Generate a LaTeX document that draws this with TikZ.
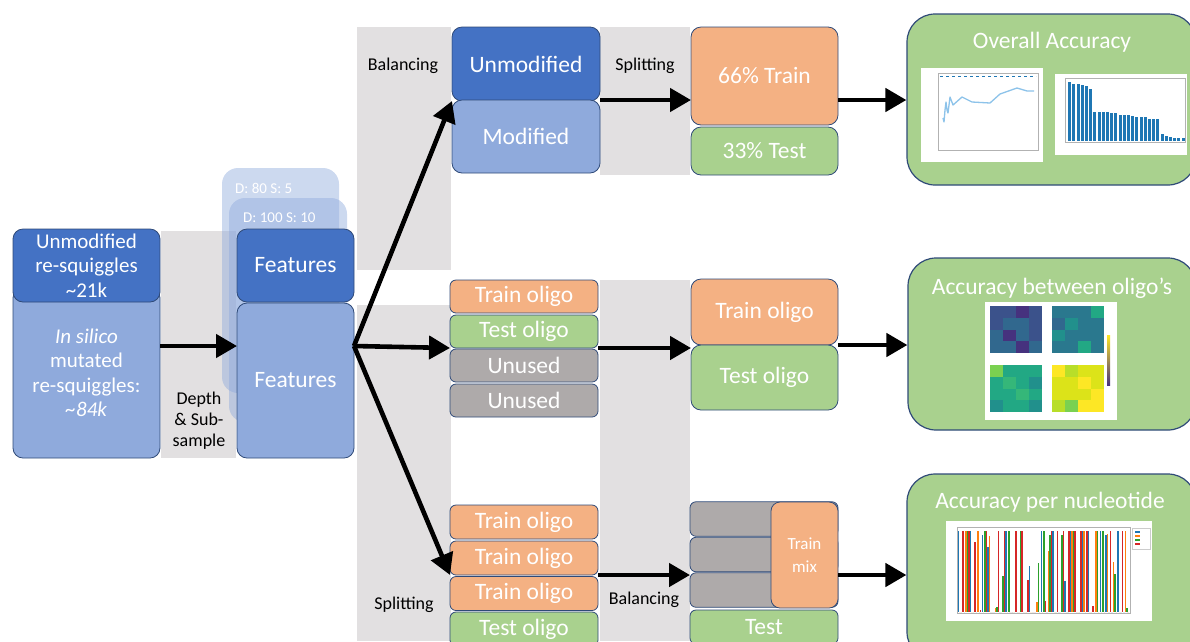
\documentclass[tikz,border=0pt]{standalone}
\usepackage{fontspec}
\setmainfont{Carlito}
\usetikzlibrary{arrows.meta, positioning, calc}
\definecolor{unmodblue}{HTML}{4472C4}
\definecolor{modblue}{HTML}{8FAADC}
\definecolor{trainorange}{HTML}{F4B183}
\definecolor{testgreen}{HTML}{A9D18E}
\definecolor{unusedgray}{HTML}{AEAAAA}
\definecolor{bandgray}{HTML}{E2E0E1}
\definecolor{boxline}{HTML}{2F4A78}
\definecolor{plotblue}{HTML}{1F77B4}
\definecolor{plotline}{HTML}{8DC3EA}
\definecolor{plotorange}{HTML}{FF7F0E}
\definecolor{plotgreen}{HTML}{2CA02C}
\definecolor{plotred}{HTML}{D62728}
% viridis steps for the heatmaps
\definecolor{virp}{HTML}{46327E}
\definecolor{vird}{HTML}{3B528B}
\definecolor{virb}{HTML}{31688E}
\definecolor{virt}{HTML}{2A788E}
\definecolor{virc}{HTML}{21908C}
\definecolor{virg}{HTML}{22A884}
\definecolor{virh}{HTML}{35B779}
\definecolor{virl}{HTML}{7AD151}
\definecolor{viry}{HTML}{B8DE29}
\definecolor{virz}{HTML}{DCE319}
\definecolor{viru}{HTML}{FDE725}
\newcommand{\boxfont}{\fontsize{23.5}{27}\selectfont}
\newcommand{\sqfont}{\fontsize{21}{24.5}\selectfont}
\newcommand{\notefont}{\fontsize{18}{21}\selectfont}
\newcommand{\dsfont}{\fontsize{15}{18}\selectfont}
\newcommand{\mixfont}{\fontsize{17}{23}\selectfont}
\newcommand{\titlefont}{\fontsize{23.5}{27}\selectfont}

\begin{document}
\begin{tikzpicture}[x=1pt, y=-1pt,
  box/.style={draw=boxline, line width=0.8pt, rounded corners=10pt, text=white,
              font=\boxfont, inner sep=0pt, outer sep=0pt, align=center},
  slim/.style={box, rounded corners=6pt, minimum width=148pt, minimum height=33pt},
  ghost/.style={fill=modblue, fill opacity=0.45, rounded corners=16pt, inner sep=0pt},
  result/.style={draw=boxline, line width=1.2pt, fill=testgreen, rounded corners=28pt, inner sep=0pt},
  note/.style={font=\notefont, align=center, inner sep=0pt},
  arr/.style={line width=4.6pt, -{Triangle[length=21pt, width=23pt]}},
  ]
  \useasboundingbox (0,0) rectangle (1190,641);
  \clip (0,0) rectangle (1190,641);

  % Grey step bands
  \fill[bandgray] (161,231) rectangle (236,458);
  \fill[bandgray] (357,27) rectangle (451,270);
  \fill[bandgray] (357,305) rectangle (451,641);
  \fill[bandgray] (600,27) rectangle (690,175);
  \fill[bandgray] (600,280) rectangle (690,641);

  % Depth / sub-sample copies
  \node[ghost, minimum width=117pt, minimum height=225pt] (d80) at (280.5,280.5) {};
  \node[font=\dsfont, text=white, anchor=west, inner sep=0pt] (d80-lbl) at (235,188) {D: 80 S: 5};
  \node[ghost, minimum width=118pt, minimum height=224pt] (d100) at (288,310) {};
  \node[font=\dsfont, text=white, anchor=west, inner sep=0pt] (d100-lbl) at (243,218) {D: 100 S: 10};

  % Input reads
  \node[box, fill=modblue, font=\sqfont, minimum width=147pt, minimum height=170pt] (insilico) at (86.5,373)
    {\textit{In silico}\\mutated\\re-squiggles:\\\textit{\textasciitilde84k}};
  \node[box, fill=unmodblue, font=\sqfont, minimum width=147pt, minimum height=73pt] (unmodsq) at (86.5,265.5)
    {Unmodified\\re-squiggles\\\textasciitilde21k};

  % Features
  \node[box, fill=unmodblue, minimum width=117pt, minimum height=73pt] (featU) at (295.5,265.5) {Features};
  \node[box, fill=modblue, minimum width=117pt, minimum height=155pt] (featM) at (295.5,380.5) {Features};
  \node[note] (depth) at (199,421) {Depth\\\& Sub-\\sample};

  % Balanced split
  \node[box, fill=unmodblue, minimum width=148pt, minimum height=74pt] (unmod) at (526,64) {Unmodified};
  \node[box, fill=modblue, minimum width=148pt, minimum height=73pt] (modif) at (526,136.5) {Modified};
  \node[box, fill=trainorange, minimum width=147pt, minimum height=98pt] (train66) at (764.5,76) {66\% Train};
  \node[box, fill=testgreen, minimum width=147pt, minimum height=48pt] (test33) at (764.5,151) {33\% Test};
  \node[note] (bal-top) at (403,66) {Balancing};
  \node[note] (split-top) at (645,66) {Splitting};

  % Oligo split
  \foreach \n/\y/\c/\t in {trainA/296.5/trainorange/Train oligo, testA/331.5/testgreen/Test oligo,
                           unusedA/365.5/unusedgray/Unused, unusedB/400.5/unusedgray/Unused}
    \node[slim, fill=\c] (\n) at (524,\y) {\t};
  \node[box, fill=trainorange, minimum width=147pt, minimum height=66pt] (trainbig) at (764.5,312) {Train oligo};
  \node[box, fill=testgreen, minimum width=147pt, minimum height=65pt] (testbig) at (764.5,377.5) {Test oligo};

  % Per-nucleotide split
  \foreach \n/\y/\c/\t in {trainC1/522/trainorange/Train oligo, trainC2/558/trainorange/Train oligo,
                           trainC3/593.5/trainorange/Train oligo, testC/629/testgreen/Test oligo}
    \node[slim, fill=\c, minimum height=34pt] (\n) at (524,\y) {\t};
  \foreach \n/\y in {mixg1/519, mixg2/554.5, mixg3/590}
    \node[slim, fill=unusedgray, minimum height=34.5pt] (\n) at (764,\y) {};
  \node[box, fill=trainorange, font=\mixfont, rounded corners=9pt, minimum width=67pt, minimum height=106pt] (mix) at (804.5,555) {Train\\mix};
  \node[slim, fill=testgreen, minimum height=34pt] (testD) at (764,627) {Test};
  \node[note] (split-bot) at (404,605) {Splitting};
  \node[note] (bal-bot) at (644,600) {Balancing};

  % Results
  \node[result, minimum width=289pt, minimum height=171pt] (res1) at (1051.5,99.5) {};
  \node[result, minimum width=288pt, minimum height=172pt] (res2) at (1052,344) {};
  \node[result, minimum width=289pt, minimum height=186pt] (res3) at (1051.5,567) {};
  \node[font=\titlefont, text=white] (res1-title) at (1052,42) {Overall Accuracy};
  \node[font=\titlefont, text=white] (res2-title) at (1052,288) {Accuracy between oligo’s};
  \node[font=\titlefont, text=white] (res3-title) at (1050,502) {Accuracy per nucleotide};

  % Accuracy vs sampling depth
  \fill[white] (921,68) rectangle (1043,162);
  \draw[gray!60, line width=0.4pt] (938,73) rectangle (1038,150);
  \draw[plotblue, dashed, line width=0.8pt] (940,76) -- (1036,76);
  \draw[plotline, line width=1.3pt, line join=round] (943,118) -- (944,122) -- (945,110) -- (946,102)
    -- (947,110) -- (948,113) -- (950,97) -- (953,105) -- (962,97) -- (972,102) -- (990,103)
    -- (1000,94) -- (1017,88) -- (1027,91) -- (1034,91);

  % Feature importance
  \fill[white] (1055,74) rectangle (1187,155);
  \draw[gray!60, line width=0.4pt] (1065,78) rectangle (1185,142);
  \foreach \h [count=\i] in {1.0,.96,.96,.95,.93,.88,.50,.50,.49,.49,.48,.48,.44,.44,
                             .44,.43,.40,.40,.40,.38,.38,.38,.12,.08,.06,.05,.05,.05}
    \fill[plotblue] ({1064+\i*4.2},141) rectangle ++(3,{-59*\h});

  % Heatmaps
  \fill[white] (985,302) rectangle (1117,420);
  \foreach \px/\py/\cells in {990/306/{d,d,p,d,d,b,b,d,b,p,b,d,b,b,p,b},
                              1052/306/{t,t,t,g,b,c,t,t,c,t,t,t,t,t,g,t},
                              990/365/{l,g,g,g,g,h,g,c,g,g,h,g,c,g,g,c},
                              1052/365/{u,y,z,z,z,z,u,z,z,z,z,u,y,l,u,u}}
    \foreach \c [count=\k from 0] in \cells {
      \pgfmathtruncatemacro{\col}{mod(\k,4)}
      \pgfmathtruncatemacro{\row}{div(\k,4)}
      \fill[vir\c] ({\px+\col*13},{\py+\row*11.75}) rectangle ++(13,11.75);
    }
  \shade[top color=viru, middle color=virc, bottom color=virp] (1107,335) rectangle (1110,385);

  % Accuracy per nucleotide bars
  \fill[white] (946,521) rectangle (1152,621);
  \draw[gray!60, line width=0.4pt] (957,527) rectangle (1130,613);
  \draw[gray!40, line width=0.3pt] (1132,528) rectangle (1150,549);
  \foreach \c [count=\i] in {plotblue,plotorange,plotgreen,plotred}
    \draw[\c, line width=1.2pt] (1135,{528+\i*4}) -- (1140,{528+\i*4});
  \foreach \b/\o/\g/\r [count=\i] in {1/0/0/1, 0/1/1/1, 1/0/0/.86, 0/1/0/.02, .95/0/1/1, .8/.94/0/0,
      0/.05/.06/1, 0/0/.45/1, 1/0/1/0, 0/0/0/1, 0/0/1/1, 0/0/0/.4, .57/0/0/0, 0/.12/.61/0,
      1/0/1/.13, 0/.75/.95/1, 1/0/0/1, 0/0/.95/1, .38/0/0/1, 1/1/1/1, 0/0/0/1, 1/1/0/1,
      1/0/0/.08, 0/1/1/0, 1/0/1/0, .95/.96/0/1, 0/.62/.47/0, 1/0/0/1, 0/1/.05/0} {
    \pgfmathsetmacro{\gx}{952+\i*5.9}
    \fill[plotblue] (\gx,612) rectangle ++(1.5,{-81*\b});
    \fill[plotorange] ({\gx+1.45},612) rectangle ++(1.5,{-81*\o});
    \fill[plotgreen] ({\gx+2.9},612) rectangle ++(1.5,{-81*\g});
    \fill[plotred] ({\gx+4.35},612) rectangle ++(1.5,{-81*\r});
  }

  % Arrows
  \coordinate (fork) at (354,346);
  \draw[arr] (insilico.east |- fork) -- (featM.west |- fork);
  \draw[arr] (fork) -- (unmod.south west);
  \draw[arr] (fork) -- (testA.south west);
  \draw[arr] (fork) -- (trainC2.south west);
  \draw[arr] (modif.north east) -- (train66.west |- modif.north east);
  \draw[arr] (testA.south east) -- (trainbig.west |- testA.south east);
  \draw[arr] (trainC2.south east) -- (mixg2.west |- trainC2.south east);
  \draw[arr] (train66.east |- modif.north east) -- (res1.west |- modif.north east);
  \draw[arr] (trainbig.south east) -- (res2.west |- trainbig.south east);
  \draw[arr] (mix.east |- trainC2.south east) -- (res3.west |- trainC2.south east);
\end{tikzpicture}
\end{document}
